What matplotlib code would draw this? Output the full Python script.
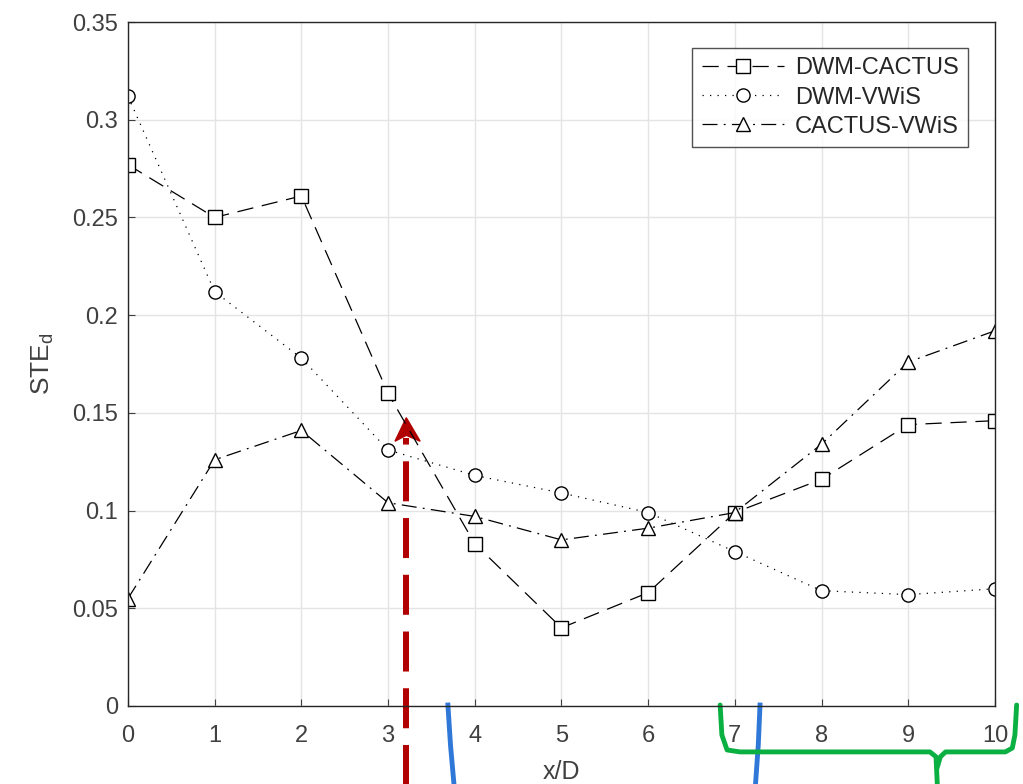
import matplotlib.pyplot as plt
from matplotlib.patches import Polygon

plt.rcParams['font.family'] = ['Liberation Sans', 'DejaVu Sans']

# podatki odcitani s slike
x_d = [0, 1, 2, 3, 4, 5, 6, 7, 8, 9, 10]
dwm_cactus = [0.277, 0.250, 0.261, 0.160, 0.083, 0.040, 0.058, 0.099, 0.116, 0.144, 0.146]
dwm_vwis = [0.312, 0.212, 0.178, 0.131, 0.118, 0.109, 0.099, 0.079, 0.059, 0.057, 0.060]
cactus_vwis = [0.055, 0.126, 0.141, 0.104, 0.097, 0.085, 0.091, 0.099, 0.134, 0.176, 0.192]
oznake = ['DWM-CACTUS', 'DWM-VWiS', 'CACTUS-VWiS']
y_ticks = [0, 0.05, 0.1, 0.15, 0.2, 0.25, 0.3, 0.35]
y_tick_labels = ['0', '0.05', '0.1', '0.15', '0.2', '0.25', '0.3', '0.35']

GRAY = '#404040'
RED = '#b00000'
BLUE = '#2f78d8'
GREEN = '#0bb042'

fig = plt.figure(figsize=[10.23, 7.84], dpi=100)
ax = fig.add_axes([0.1251, 0.0995, 0.8475, 0.8724])

kw = dict(color='black', linewidth=0.9, markersize=9.5, markerfacecolor='white',
          markeredgewidth=1.0)
ax.plot(x_d, dwm_cactus, linestyle=(0, (13, 7)), marker='s', label=oznake[0], **kw)
ax.plot(x_d, dwm_vwis, linestyle=(0, (1, 5)), marker='o', label=oznake[1], **kw)
ax.plot(x_d, cactus_vwis, linestyle=(0, (12, 5, 1.5, 5)), marker='^', label=oznake[2], **kw)

ax.set_xlim(0, 10)
ax.set_ylim(0, 0.35)
ax.set_xticks(x_d)
ax.set_yticks(y_ticks)
ax.set_yticklabels(y_tick_labels)
ax.grid(True, color='#e4e4e4', linewidth=1.0)
ax.set_axisbelow(True)
ax.tick_params(direction='in', labelsize=17, colors=GRAY, length=5, top=False, right=False)
ax.tick_params(axis='y', pad=7)
ax.tick_params(axis='x', pad=14)
for s in ax.spines.values():
    s.set_color('#262626')
    s.set_linewidth(1.0)

ax.set_xlabel('x/D', fontsize=18, color=GRAY, labelpad=9)
ax.set_ylabel(r'STE$_\mathregular{d}$', fontsize=19, color=GRAY, labelpad=12)

leg = ax.legend(loc='upper right', bbox_to_anchor=(0.969, 0.962), borderaxespad=0,
                fontsize=17, frameon=True, fancybox=False, edgecolor='#262626',
                handlelength=3.5, borderpad=0.4, labelspacing=0.3, handletextpad=0.45)
leg.get_frame().set_linewidth(1.0)
for t in leg.get_texts():
    t.set_color('#262626')

# rocno dodane oznake pod osjo
ax.plot([3.21, 3.21], [-0.045, 0.137], color=RED, lw=4.3, linestyle=(0, (6.7, 2.8)),
        clip_on=False, solid_capstyle='butt', dash_capstyle='butt')
ax.add_patch(Polygon([[3.21, 0.1475], [3.37, 0.1355], [3.21, 0.1385], [3.08, 0.1355]],
                     closed=True, color=RED, clip_on=False))

ax.plot([3.69, 3.72, 3.77], [0.0005, -0.020, -0.045], color=BLUE, lw=3.5, clip_on=False)
ax.plot([7.29, 7.27, 7.23], [0.0005, -0.020, -0.045], color=BLUE, lw=3.5, clip_on=False)

ax.plot([6.83, 6.85, 6.91, 7.06, 9.25, 9.32, 9.34],
        [0.0005, -0.0148, -0.0225, -0.0235, -0.0235, -0.026, -0.045],
        color=GREEN, lw=3.5, clip_on=False, solid_joinstyle='round', solid_capstyle='round')
ax.plot([9.33, 9.37, 9.43, 10.12, 10.20, 10.23, 10.25],
        [-0.032, -0.026, -0.0235, -0.0235, -0.0215, -0.0148, 0.0005],
        color=GREEN, lw=3.5, clip_on=False, solid_joinstyle='round', solid_capstyle='round')

plt.savefig('out.png', dpi=100)
